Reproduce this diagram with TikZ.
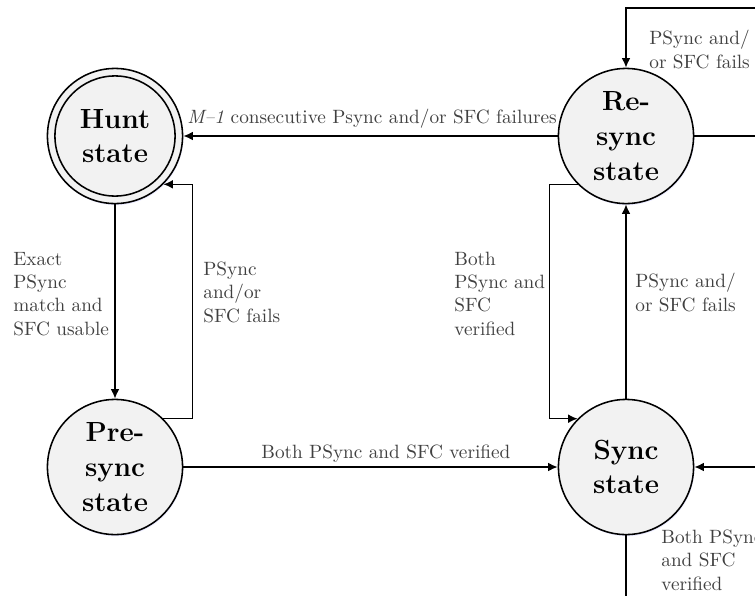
\documentclass[tikz,border=0pt]{standalone}
\usetikzlibrary{arrows.meta,shadows}
\definecolor{statefill}{HTML}{F2F2F2}
\definecolor{labelgray}{HTML}{404040}
\begin{document}
\begin{tikzpicture}[x=0.5195pt,y=-0.5195pt,
  state/.style={circle, draw, line width=0.8pt, fill=statefill,
    minimum size=70.2pt, inner sep=0pt, align=center, font=\Large\bfseries,
    drop shadow={shadow xshift=0.4pt,shadow yshift=-0.8pt,fill=blue!35!white,opacity=0.25}},
  lbl/.style={font=\normalsize, text=labelgray, align=left, inner sep=0pt, anchor=base west},
  arr/.style={line width=0.8pt, -{Latex[length=5pt,width=4.6pt]}},
  ln/.style={line width=0.8pt}]
\useasboundingbox (0,0) rectangle (755,595);

% states
\node[state] (hunt) at (115,136) {Hunt\\state};
\draw[line width=0.8pt] (hunt.center) circle[radius=31.2pt];
\node[state] (resync) at (626,136) {Re-\\sync\\state};
\node[state] (presync) at (115,467) {Pre-\\sync\\state};
\node[state] (sync) at (626,467) {Sync\\state};

% free ends at the picture's edges
\coordinate (topin) at (760,8);
\coordinate (rsout) at (760,136);
\coordinate (syin) at (760,467);
\coordinate (syout) at (626,600);

% connectors
\draw[arr] (resync.west) -- (hunt.east);
\draw[arr] (hunt.south) -- (presync.north);
\draw[arr] (presync.45) -- ++(29,0) |- (hunt.-45);
\draw[arr] (presync.east) -- (sync.west);
\draw[arr] (sync.north) -- (resync.south);
\draw[arr] (resync.225) -- ++(-28,0) |- (sync.135);
\draw[arr] (topin) -| (resync.north);
\draw[ln] (resync.east) -- (rsout);
\draw[arr] (syin) -- (sync.east);
\draw[ln] (sync.south) -- (syout);

% labels (base anchor = baseline of the last line)
\node[lbl] (l1) at (187,123) {\textit{M--1} consecutive Psync and/or SFC failures};
\node[lbl] (l2) at (649,68) {PSync and/\\or SFC fails};
\node[lbl] (l3) at (13,335) {Exact\\PSync\\match and\\SFC usable};
\node[lbl] (l4) at (203,322) {PSync\\and/or\\SFC fails};
\node[lbl] (l5) at (261,458) {Both PSync and SFC verified};
\node[lbl] (l6) at (454,335) {Both\\PSync and\\SFC\\verified};
\node[lbl] (l7) at (635,311) {PSync and/\\or SFC fails};
\node[lbl] (l8) at (661,590) {Both PSync\\and SFC\\verified};
\end{tikzpicture}
\end{document}
